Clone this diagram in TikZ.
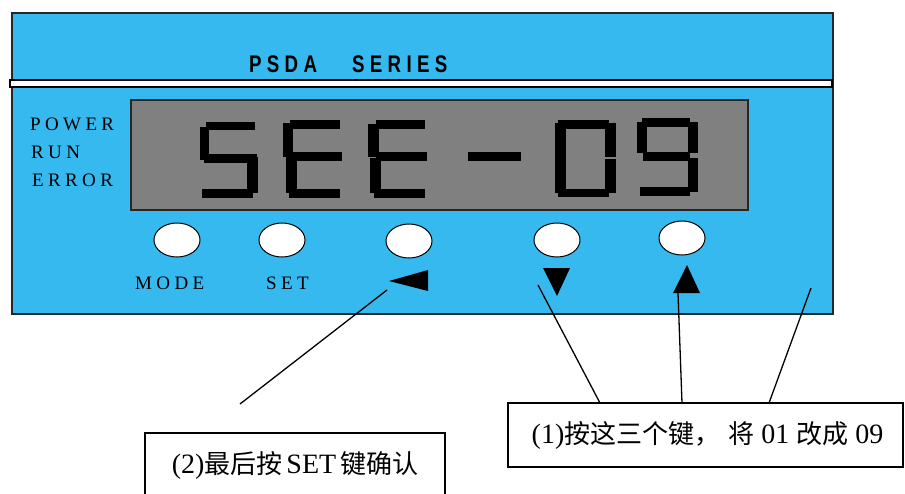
\documentclass[tikz,border=0pt]{standalone}
\usepackage{fontspec}
\setmainfont{Liberation Serif}
\newfontfamily\cjk{Noto Sans CJK SC}
\newfontfamily\lsserif[LetterSpace=23]{Liberation Serif}
\newfontfamily\titlefont[LetterSpace=22,FakeStretch=0.78]{Liberation Sans Bold}
\newcommand\zhtext[1]{{\cjk\fontsize{26}{30}\selectfont #1}}
\usetikzlibrary{shapes.geometric}
\definecolor{panelblue}{RGB}{54,185,239}
\definecolor{lcdgray}{RGB}{128,128,128}
\tikzset{
  panel/.style={draw=black!85, line width=1.3pt, fill=panelblue},
  stripe/.style={draw=black, line width=1.2pt, fill=white},
  lcd/.style={draw=black!85, line width=1.2pt, fill=lcdgray},
  seg/.style={fill=black},
  keybtn/.style={ellipse, draw=black, line width=1pt, fill=white, minimum width=46pt, minimum height=34pt, inner sep=0pt},
  ledlabel/.style={anchor=base west, inner sep=0pt, font=\lsserif\fontsize{19}{20}\selectfont},
  titletext/.style={anchor=base west, inner sep=0pt, font=\titlefont\fontsize{24}{24}\selectfont},
  arrowtri/.style={fill=black},
  callout/.style={draw=black, line width=1.2pt, fill=white, inner sep=0pt, font=\fontsize{28}{30}\selectfont},
  leader/.style={draw=black, line width=1.3pt},
}
\begin{document}
\begin{tikzpicture}[x=1pt,y=-1pt]
\useasboundingbox[fill=white] (0,0) rectangle (905,493);
% panel
\draw[panel] (12,13) rectangle (833,314);
\draw[stripe] (10,80) rectangle (832,87);
\node[titletext] (t1) at (249,72) {PSDA};
\node[titletext] (t2) at (352,72) {SERIES};
% LCD
\draw[lcd] (131,100) rectangle (748,210);
% S
\fill[seg] (206,122) rectangle (255,130);
\fill[seg] (200,127) rectangle (209,160);
\fill[seg] (204,154) rectangle (257,163);
\fill[seg] (247,157) rectangle (258,193);
\fill[seg] (202,189) rectangle (253,198);
% E
\fill[seg] (290,120) rectangle (340,129);
\fill[seg] (283,123) rectangle (293,157);
\fill[seg] (288,152) rectangle (342,161);
\fill[seg] (286,157) rectangle (297,193);
\fill[seg] (289,189) rectangle (340,198);
% E
\fill[seg] (376,120) rectangle (425,129);
\fill[seg] (368,124) rectangle (379,157);
\fill[seg] (376,152) rectangle (427,161);
\fill[seg] (370,158) rectangle (381,193);
\fill[seg] (374,189) rectangle (425,198);
% dash
\fill[seg] (468,152) rectangle (521,161);
% 0
\fill[seg] (558,120) rectangle (609,129);
\fill[seg] (555,123) rectangle (566,193);
\fill[seg] (605,123) rectangle (616,157);
\fill[seg] (605,159) rectangle (616,193);
\fill[seg] (558,189) rectangle (609,197);
% 9
\fill[seg] (642,118) rectangle (690,127);
\fill[seg] (637,122) rectangle (647,153);
\fill[seg] (688,122) rectangle (698,153);
\fill[seg] (643,152) rectangle (690,161);
\fill[seg] (688,158) rectangle (698,192);
\fill[seg] (640,187) rectangle (690,196);
% LED labels
\node[ledlabel] (power) at (30,130) {POWER};
\node[ledlabel] (run) at (31,158) {RUN};
\node[ledlabel] (error) at (32,186) {ERROR};
% keys
\node[keybtn] (kmode) at (177,240) {};
\node[keybtn] (kset) at (282,240) {};
\node[keybtn] (kleft) at (409,241) {};
\node[keybtn] (kdown) at (557,240) {};
\node[keybtn] (kup) at (682,238) {};
\node[ledlabel] (lmode) at (135,289) {MODE};
\node[ledlabel] (lset) at (266,289) {SET};
% arrow marks
\fill[arrowtri] (389,281) -- (428,270) -- (428,291) -- cycle;
\fill[arrowtri] (543,268) -- (570,268) -- (557,296) -- cycle;
\fill[arrowtri] (687,265) -- (700,293) -- (673,293) -- cycle;
% callouts
\node[callout, minimum width=395pt, minimum height=64pt] (box1) at (705.5,435)
  {\hspace{4pt}(1)\zhtext{按这三个键，}\hspace{8pt}\zhtext{将} 01 \zhtext{改成} 09};
\node[callout, minimum width=300pt, minimum height=64pt] (box2) at (295,465)
  {(2)\zhtext{最后按}\hspace{4pt}SET\hspace{4pt}\zhtext{键确认}\hspace{4pt}};
% leader lines
\coordinate (pleft) at (387,290);
\coordinate (pleftend) at (240,404);
\coordinate (pdown) at (538,285);
\coordinate (pup) at (678,293);
\coordinate (pright) at (811,288);
\coordinate (b1a) at (600,403);
\coordinate (b1b) at (682,403);
\coordinate (b1c) at (769,403);
\draw[leader] (pleft) -- (pleftend);
\draw[leader] (pdown) -- (b1a);
\draw[leader] (pup) -- (b1b);
\draw[leader] (pright) -- (b1c);
\end{tikzpicture}
\end{document}
